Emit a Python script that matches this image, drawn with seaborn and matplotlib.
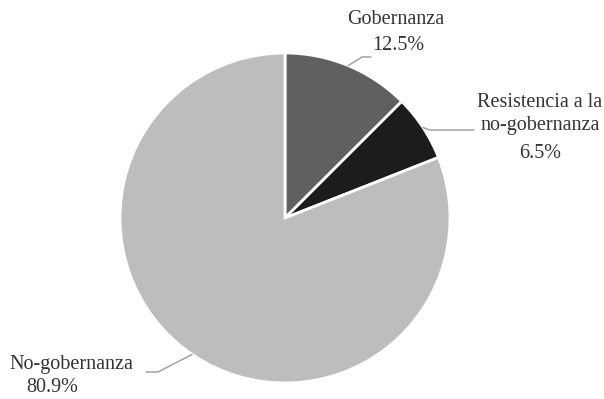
import numpy as np
import matplotlib.pyplot as plt
import seaborn as sns

labels = ["Gobernanza", "Resistencia a la\nno-gobernanza", "No-gobernanza"]
shares = [12.5, 6.5, 80.9]
colors = ["#606060", "#1c1c1c", "#bdbdbd"]

W, H = 604, 399
CX, CY, R = 285, 218, 165

sns.set_theme(style="white")
plt.rcParams["font.family"] = ["Liberation Serif", "DejaVu Serif"]

fig = plt.figure(figsize=(W / 100, H / 100), dpi=100)
ax = fig.add_axes([(CX - R) / W, (H - CY - R) / H, 2 * R / W, 2 * R / H])

wedges, _ = ax.pie(shares, colors=colors, startangle=90, counterclock=False,
                   wedgeprops=dict(edgecolor="white", linewidth=2))
ax.set_xlim(-1, 1)
ax.set_ylim(-1, 1)
ax.set_aspect("equal")
ax.axis("off")


def px(x, y):
    # pixel position in the image -> pie data coords
    return (x - CX) / R, (CY - y) / R


# leader line knee/end and text anchor, in image pixels
layout = [
    dict(knee=(362, 57), end=(371, 57), name=(396, 20), pct=(398, 45), ha="center"),
    dict(knee=(430, 130), end=(474, 130), name=(540, 114), pct=(540, 153), ha="center"),
    dict(knee=(158, 372), end=(146, 372), name=(9, 365), pct=(26, 388), ha="left"),
]

for w, lab, s, lay in zip(wedges, labels, shares, layout):
    mid = np.deg2rad((w.theta1 + w.theta2) / 2)
    x0, y0 = np.cos(mid), np.sin(mid)
    kx, ky = px(*lay["knee"])
    ex, ey = px(*lay["end"])
    ax.plot([x0, kx, ex], [y0, ky, ey], color="#9a9a9a", lw=1, clip_on=False)
    nx, ny = px(*lay["name"])
    ax.text(nx, ny, lab, ha=lay["ha"], va="center", fontsize=14.5,
            color="#333333", multialignment="center", linespacing=1.3)
    tx, ty = px(*lay["pct"])
    ax.text(tx, ty, f"{s}%", ha=lay["ha"], va="center", fontsize=14.5, color="#333333")

fig.savefig("out.png", dpi=100, facecolor="white")
